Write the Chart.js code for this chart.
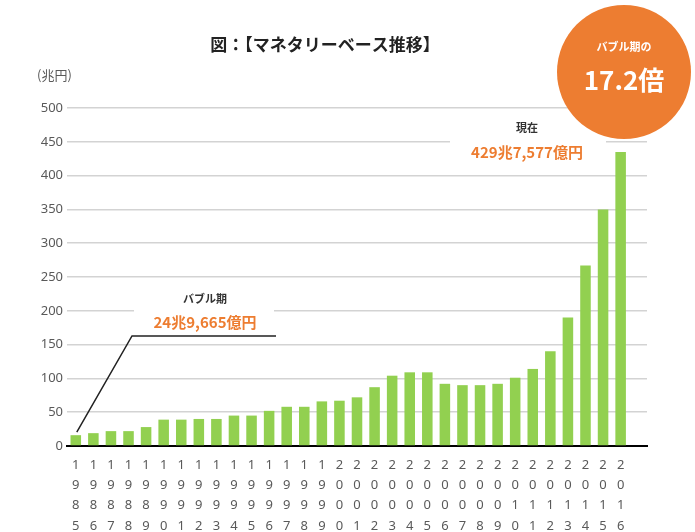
<!DOCTYPE html>
<html>
<head>
<meta charset="utf-8">
<script src="https://cdn.jsdelivr.net/npm/chart.js@4"></script>
<style>
  html, body { margin: 0; padding: 0; background: #fff; }
  #wrap { width: 695px; height: 532px; position: relative; }
</style>
</head>
<body>
<div id="wrap"><canvas id="chart-base" width="695" height="532"></canvas></div>
<script>
// data
var years = ["1985","1986","1987","1988","1989","1990","1991","1992","1993","1994",
  "1995","1996","1997","1998","1999","2000","2001","2002","2003","2004",
  "2005","2006","2007","2008","2009","2010","2011","2012","2013","2014","2015","2016"];
var baseValues = [16,19,22,22,28,39,39,40,40,45,45,52,58,58,66,67,72,87,104,109,
  109,92,90,90,92,101,114,140,190,267,350,435];
var yTicks = [0,50,100,150,200,250,300,350,400,450,500];

var jp = "'Noto Sans CJK JP', 'Noto Sans', sans-serif";
var orange = "#ED7D31";

// digits stacked vertically, plus an empty slot at the right end
var xLabels = years.map(function (y) { return y.split(""); });
xLabels.push("");

function txt(ctx, s, x, y, font, color) {
  ctx.font = font;
  ctx.fillStyle = color;
  ctx.textAlign = "center";
  ctx.textBaseline = "middle";
  ctx.fillText(s, x, y);
}

// gaps in the grid behind the annotations
var gapPlugin = {
  id: "gaps",
  beforeDatasetsDraw: function (chart) {
    var ctx = chart.ctx, ys = chart.scales.y;
    ctx.save();
    ctx.fillStyle = "#fff";
    var y450 = ys.getPixelForValue(450), y200 = ys.getPixelForValue(200);
    ctx.fillRect(450, y450 - 4, 156, 8);
    ctx.fillRect(134, y200 - 4, 140, 8);
    ctx.restore();
  }
};

// title and call-outs
var notePlugin = {
  id: "notes",
  afterDraw: function (chart) {
    var ctx = chart.ctx, xs = chart.scales.x, ys = chart.scales.y;
    ctx.save();
    txt(ctx, "図：【マネタリーベース推移】", 325, 45, "bold 17px " + jp, "#222");
    ctx.font = "13px " + jp;
    ctx.fillStyle = "#595959";
    ctx.textAlign = "left";
    ctx.textBaseline = "middle";
    ctx.fillText("(兆円)", 37, 75);

    // bubble period
    ctx.strokeStyle = "#222";
    ctx.lineWidth = 1.5;
    ctx.beginPath();
    ctx.moveTo(xs.getPixelForValue(0) + 1, ys.getPixelForValue(baseValues[0]) - 3);
    ctx.lineTo(132, 336);
    ctx.lineTo(276, 336);
    ctx.stroke();
    txt(ctx, "バブル期", 205, 299, "bold 11px " + jp, "#333");
    txt(ctx, "24兆9,665億円", 205, 322, "bold 15px " + jp, orange);

    // now
    txt(ctx, "現在", 527, 128, "bold 11px " + jp, "#333");
    txt(ctx, "429兆7,577億円", 527, 152, "bold 15px " + jp, orange);

    // circle
    ctx.fillStyle = orange;
    ctx.beginPath();
    ctx.arc(624, 72, 67, 0, Math.PI * 2);
    ctx.fill();
    txt(ctx, "バブル期の", 624, 47, "bold 11px " + jp, "#fff");
    txt(ctx, "17.2倍", 624, 80, "bold 26px " + jp, "#fff");
    ctx.restore();
  }
};

new Chart("chart-base", {
  type: "bar",
  data: {
    labels: xLabels,
    datasets: [{
      data: baseValues,
      backgroundColor: "#92D050",
      barPercentage: 0.6,
      categoryPercentage: 1.0
    }]
  },
  options: {
    responsive: false,
    animation: false,
    layout: { padding: { top: 108, left: 0, right: 48, bottom: 0 } },
    plugins: {
      legend: { display: false },
      tooltip: { enabled: false }
    },
    scales: {
      x: {
        grid: { display: false },
        border: { display: true, color: "#000", width: 2 },
        ticks: {
          autoSkip: false,
          maxRotation: 0,
          padding: 1,
          color: "#595959",
          font: { size: 13, family: "'Noto Sans', sans-serif", lineHeight: 1.56 }
        },
        afterFit: function (s) { s.height = 86; }
      },
      y: {
        min: 0,
        max: 500,
        afterBuildTicks: function (s) {
          s.ticks = yTicks.map(function (v) { return { value: v }; });
        },
        grid: { color: "#D3D3D3", lineWidth: 1.5, drawTicks: false },
        border: { display: false },
        ticks: {
          padding: 4,
          color: "#595959",
          font: { size: 13, family: "'Noto Sans', sans-serif" }
        },
        afterFit: function (s) { s.width = 67; }
      }
    }
  },
  plugins: [gapPlugin, notePlugin]
});
</script>
</body>
</html>
